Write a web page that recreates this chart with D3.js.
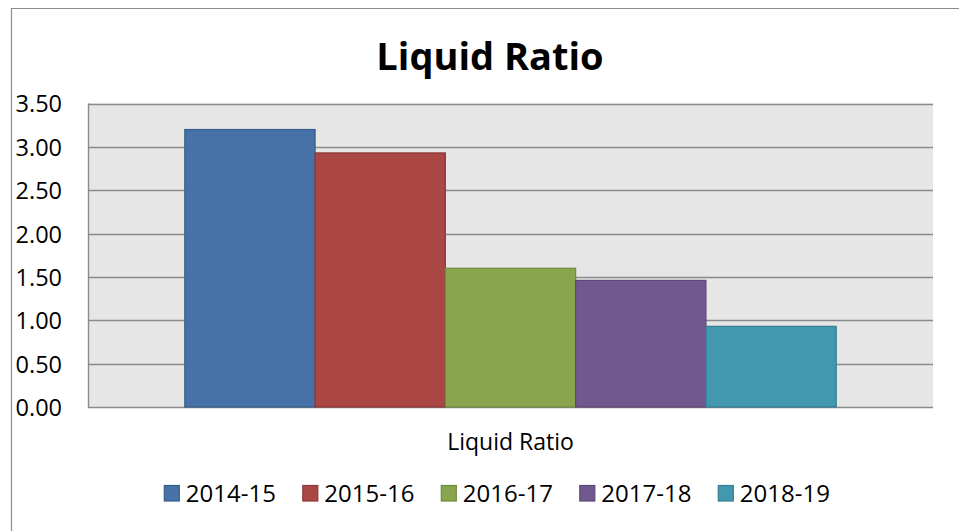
<!DOCTYPE html>
<html>
<head>
<meta charset="utf-8">
<script src="https://cdn.jsdelivr.net/npm/d3@7"></script>
<style>
  body { margin: 0; background: #fff; }
  svg { display: block; font-family: "Open Sans", sans-serif; }
</style>
</head>
<body>
<svg id="chart" width="959" height="531"></svg>
<script>
const categories = ["Liquid Ratio"];
const years = ["2014-15", "2015-16", "2016-17", "2017-18", "2018-19"];
const values = [3.20, 2.93, 1.60, 1.46, 0.93];
const yTicks = [0, 0.5, 1, 1.5, 2, 2.5, 3, 3.5];

const fills = ["#4672a8", "#aa4643", "#89a54e", "#71588f", "#4198af"];
const strokes = ["#385d8a", "#8c3836", "#71893f", "#5c4776", "#357d91"];

const width = 959, height = 531;
const plot = {left: 88, right: 933, top: 103.5, bottom: 407};

const svg = d3.select("#chart");

// chart frame (runs off right and bottom edge)
svg.append("path")
    .attr("d", `M11.5,${height + 2} V8.5 H${width + 2}`)
    .attr("fill", "none")
    .attr("stroke", "#8c8c8c")
    .attr("stroke-width", 1.2);

// title
svg.append("text")
    .attr("x", 490)
    .attr("y", 70)
    .attr("text-anchor", "middle")
    .attr("font-size", 38)
    .attr("font-weight", "bold")
    .attr("fill", "#000")
    .text("Liquid Ratio");

const x0 = d3.scaleBand()
    .domain(categories)
    .range([plot.left, plot.right])
    .paddingOuter(0.1486);

const x1 = d3.scaleBand()
    .domain(years)
    .range([0, x0.bandwidth()]);

const y = d3.scaleLinear()
    .domain([0, 3.5])
    .range([plot.bottom, plot.top]);

// plot background
svg.append("rect")
    .attr("x", plot.left)
    .attr("y", plot.top)
    .attr("width", plot.right - plot.left)
    .attr("height", plot.bottom - plot.top)
    .attr("fill", "#e6e6e6");

// gridlines
svg.append("g")
    .selectAll("line")
    .data(yTicks)
    .enter()
    .append("line")
    .attr("x1", plot.left)
    .attr("x2", plot.right)
    .attr("y1", d => Math.round(y(d)) + 0.5)
    .attr("y2", d => Math.round(y(d)) + 0.5)
    .attr("stroke", "#8a8a8a")
    .attr("stroke-width", 1.4);

// left edge of plot area
svg.append("line")
    .attr("x1", plot.left + 0.5).attr("x2", plot.left + 0.5)
    .attr("y1", plot.top).attr("y2", plot.bottom + 1)
    .attr("stroke", "#8a8a8a")
    .attr("stroke-width", 1.4);

// y axis labels
const yAxis = svg.append("g")
    .attr("transform", `translate(${plot.left - 26},0)`)
    .call(d3.axisLeft(y).tickValues(yTicks).tickFormat(d3.format(".2f")).tickSize(0).tickPadding(0));
yAxis.select(".domain").remove();
yAxis.selectAll("text")
    .attr("font-family", "Open Sans, sans-serif")
    .attr("font-size", 23.5)
    .attr("fill", "#000")
    .attr("dy", "0.36em");

// bars
svg.append("g")
    .selectAll("rect")
    .data(values)
    .enter()
    .append("rect")
    .attr("x", (d, i) => x0(categories[0]) + x1(years[i]))
    .attr("y", d => y(d))
    .attr("width", x1.bandwidth())
    .attr("height", d => y(0) - y(d))
    .attr("fill", (d, i) => fills[i])
    .attr("stroke", (d, i) => strokes[i])
    .attr("stroke-width", 1.2);

// category label
const xAxis = svg.append("g")
    .attr("transform", `translate(0,${plot.bottom})`)
    .call(d3.axisBottom(x0).tickSize(0).tickPadding(0));
xAxis.select(".domain").remove();
xAxis.selectAll("text")
    .attr("font-family", "Open Sans, sans-serif")
    .attr("font-size", 23)
    .attr("fill", "#000")
    .attr("dy", null)
    .attr("y", 43);

// legend
const legend = svg.append("g")
    .selectAll("g")
    .data(years)
    .enter()
    .append("g")
    .attr("transform", (d, i) => `translate(${163.8 + i * 138.5},485)`);

legend.append("rect")
    .attr("x", 0.5)
    .attr("y", 0.5)
    .attr("width", 15)
    .attr("height", 15.5)
    .attr("fill", (d, i) => fills[i])
    .attr("stroke", (d, i) => strokes[i])
    .attr("stroke-width", 1.2);

legend.append("text")
    .attr("x", 22)
    .attr("y", 16.8)
    .attr("font-size", 24)
    .attr("fill", "#000")
    .text(d => d);
</script>
</body>
</html>
